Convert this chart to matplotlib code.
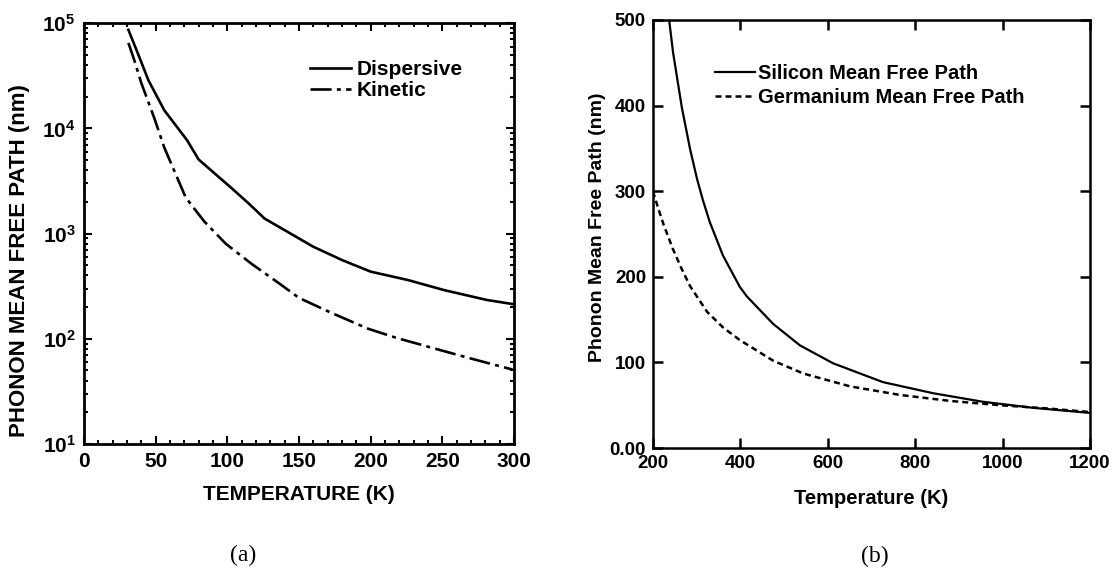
import matplotlib
matplotlib.use("Agg")
import matplotlib.pyplot as plt
import numpy as np
from matplotlib.ticker import MultipleLocator, LogLocator, NullFormatter, FixedLocator

# panel (a): temperature (K) vs phonon mean free path (nm), log axis
t_disp = [31, 38, 45, 56, 72, 80, 102, 115, 126, 142, 160, 180, 200, 226, 251, 281, 299]
mfp_disp = [86500, 50000, 28600, 14900, 7700, 5060, 2780, 1930, 1390, 1040, 750, 561, 435, 362, 291, 234, 214]

t_kin = [31, 35, 40, 49, 56, 71, 84, 99, 117, 137, 150, 172, 198, 218, 243, 268, 299]
mfp_kin = [65000, 45000, 27000, 12600, 6600, 2200, 1300, 800, 515, 330, 245, 178, 125, 102, 82, 66, 51]

# panel (b)
t_si = [237, 246, 266, 285, 301, 314, 330, 360, 399, 415, 475, 536, 612, 726, 841, 955, 1069, 1200]
mfp_si = [500, 462, 398, 349, 314, 290, 264, 225, 188, 177, 145, 120, 99, 77, 64, 54, 47, 41]

t_ge = [200, 212, 225, 246, 265, 285, 324, 360, 399, 475, 544, 651, 765, 880, 994, 1108, 1200]
mfp_ge = [300, 280, 260, 232, 210, 189, 159, 141, 126, 102, 87, 72, 62, 55, 50, 46, 42]

sans = ['Liberation Sans', 'DejaVu Sans']
plt.rcParams['font.family'] = sans
plt.rcParams['mathtext.fontset'] = 'custom'
plt.rcParams['mathtext.bf'] = 'Liberation Sans:bold'
plt.rcParams['mathtext.rm'] = 'Liberation Sans:bold'

fig = plt.figure(figsize=(11.12, 5.71), dpi=100)

# ---------- (a) ----------
ax1 = fig.add_axes([0.0755, 0.2224, 0.3867, 0.737])
ax1.plot(t_disp, mfp_disp, color='black', lw=1.9, label='Dispersive')
ax1.plot(t_kin, mfp_kin, color='black', lw=1.9, dashes=(8, 2, 1.5, 2), label='Kinetic')
ax1.set_yscale('log')
ax1.set_xlim(0, 300)
ax1.set_ylim(10, 1e5)
ax1.xaxis.set_major_locator(MultipleLocator(50))
ax1.xaxis.set_minor_locator(MultipleLocator(10))
ax1.yaxis.set_major_locator(FixedLocator([10, 100, 1000, 1e4, 1e5]))
ax1.yaxis.set_minor_locator(LogLocator(base=10, subs=np.arange(2, 10)))
ax1.yaxis.set_minor_formatter(NullFormatter())
ax1.set_yticklabels([r'$\mathbf{10^{1}}$', r'$\mathbf{10^{2}}$', r'$\mathbf{10^{3}}$',
                     r'$\mathbf{10^{4}}$', r'$\mathbf{10^{5}}$'])
ax1.tick_params(which='both', direction='in', top=True, right=True, width=1.5)
ax1.tick_params(which='major', length=6, labelsize=15, pad=6)
ax1.tick_params(which='minor', length=3)
for lab in ax1.get_xticklabels() + ax1.get_yticklabels():
    lab.set_fontweight('bold')
for s in ax1.spines.values():
    s.set_linewidth(2)
ax1.set_xlabel('TEMPERATURE (K)', fontsize=15, fontweight='bold', labelpad=10)
ax1.set_ylabel('PHONON MEAN FREE PATH (nm)', fontsize=16, fontweight='bold')
ax1.yaxis.set_label_coords(-0.125, 0.435)
ax1.legend(loc='upper left', bbox_to_anchor=(0.526, 0.912), frameon=False,
           borderpad=0, borderaxespad=0,
           prop={'weight': 'bold', 'size': 15}, handlelength=1.95,
           handletextpad=0.3, labelspacing=0.1)

# ---------- (b) ----------
ax2 = fig.add_axes([0.5872, 0.2154, 0.393, 0.7496])
ax2.plot(t_si, mfp_si, color='black', lw=1.6, label='Silicon Mean Free Path')
ax2.plot(t_ge, mfp_ge, color='black', lw=1.8, dashes=(2.4, 1.6), label='Germanium Mean Free Path')
ax2.set_xlim(200, 1200)
ax2.set_ylim(0, 500)
ax2.xaxis.set_major_locator(MultipleLocator(200))
ax2.set_yticks([0, 100, 200, 300, 400, 500])
ax2.set_yticklabels(['0.00', '100', '200', '300', '400', '500'])
ax2.tick_params(which='both', direction='in', top=True, right=True, width=1.8, length=7,
                labelsize=13.5, pad=5)
for lab in ax2.get_xticklabels() + ax2.get_yticklabels():
    lab.set_fontweight('bold')
for s in ax2.spines.values():
    s.set_linewidth(1.8)
ax2.set_xlabel('Temperature (K)', fontsize=14.5, fontweight='bold', labelpad=12)
ax2.set_ylabel('Phonon Mean Free Path (nm)', fontsize=14, fontweight='bold')
ax2.yaxis.set_label_coords(-0.108, 0.516)
ax2.legend(loc='upper left', bbox_to_anchor=(0.142, 0.898), frameon=False,
           borderpad=0, borderaxespad=0,
           prop={'weight': 'bold', 'size': 14.5},
           handlelength=2.0, handletextpad=0.15, labelspacing=0.25)

# captions
fig.text(0.219, 0.028, '(a)', fontsize=17, ha='center', va='center',
         family=['Liberation Serif', 'DejaVu Serif'])
fig.text(0.787, 0.025, '(b)', fontsize=17, ha='center', va='center',
         family=['Liberation Serif', 'DejaVu Serif'])

fig.savefig('out.png', dpi=100)
